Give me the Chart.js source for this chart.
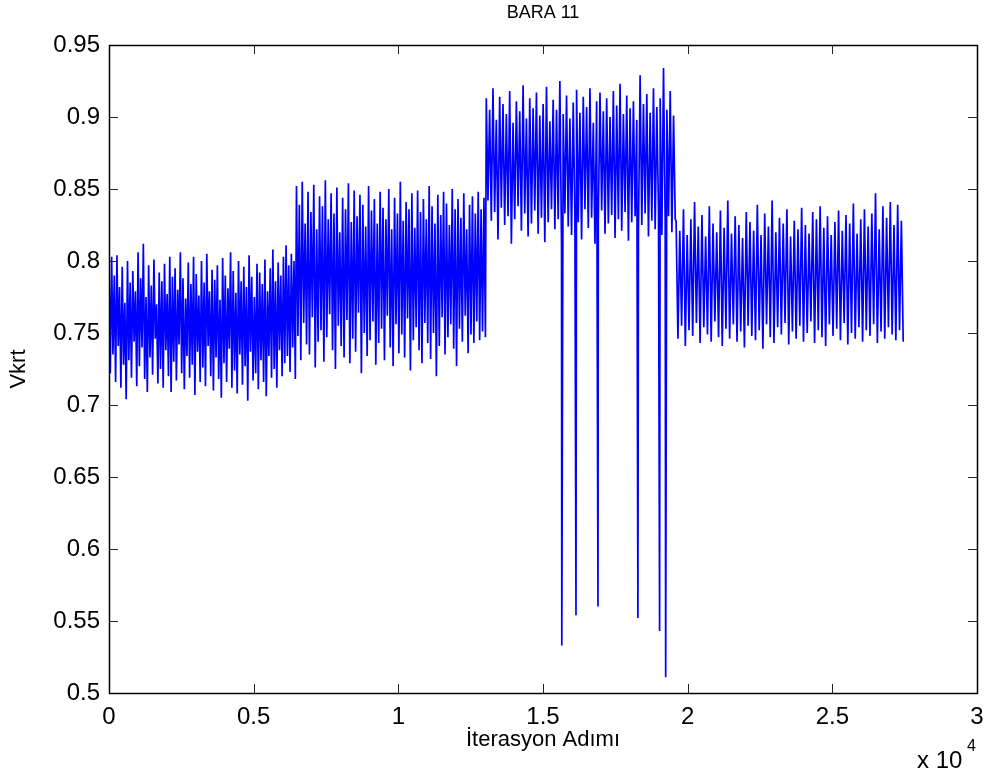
<!DOCTYPE html>
<html>
<head>
<meta charset="utf-8">
<script src="https://cdn.jsdelivr.net/npm/chart.js@4/dist/chart.umd.min.js"></script>
<style>
  html, body { margin: 0; padding: 0; background: #fff; }
  #wrap { width: 987px; height: 775px; }
</style>
</head>
<body>
<div id="wrap"><canvas id="plot" width="987" height="775"></canvas></div>
<script>
// Vkrt per iteration, four operating stages (peak, trough, peak, trough ...)
var stageA = [
  .798,.722, .803,.735, .790,.716, .804,.741, .782,.712, .796,.728, .771,.704, .800,.731,
  .785,.719, .793,.744, .779,.713, .806,.727, .788,.740, .812,.718, .775,.709, .797,.733,
  .783,.721, .801,.746, .770,.715, .792,.725, .786,.712, .798,.738, .777,.720, .803,.709,
  .789,.730, .795,.717, .780,.742, .806,.722, .788,.711, .774,.734, .799,.719, .784,.728,
  .803,.707, .791,.737, .776,.716, .800,.726, .785,.713, .805,.741, .779,.720, .794,.710,
  .787,.733, .797,.718, .773,.705, .802,.729, .790,.716, .781,.739, .806,.712, .793,.724,
  .778,.708, .800,.735, .786,.714, .796,.727, .782,.703, .804,.737, .789,.717, .775,.722,
  .798,.711, .792,.731, .784,.716, .801,.706, .779,.734, .795,.719, .808,.725, .786,.712,
  .799,.738, .790,.720, .803,.729, .811,.734, .797,.723, .805,.740, .800,.718
];
var stageB = [
  .852,.748, .839,.731, .855,.757, .826,.742, .848,.735, .834,.761, .853,.726, .822,.744,
  .845,.752, .838,.730, .856,.747, .829,.763, .847,.738, .833,.725, .851,.755, .820,.741,
  .844,.733, .836,.759, .854,.729, .827,.746, .849,.737, .831,.764, .846,.722, .839,.750,
  .824,.734, .852,.745, .835,.758, .843,.728, .826,.743, .848,.753, .837,.731, .829,.762,
  .850,.740, .822,.727, .844,.756, .833,.736, .855,.749, .828,.733, .841,.760, .836,.724,
  .847,.745, .823,.754, .849,.738, .834,.729, .843,.757, .829,.743, .852,.732, .838,.750,
  .826,.720, .846,.741, .832,.761, .848,.735, .840,.747, .825,.756, .850,.739, .836,.727,
  .843,.753, .830,.744, .847,.762, .822,.736, .839,.749, .845,.743, .833,.758, .848,.745,
  .836,.751, .844,.747
];
var stageC = [
  .913,.842, .905,.828, .920,.834, .898,.815, .914,.837, .909,.825, .902,.831, .918,.812,
  .896,.829, .911,.838, .904,.821, .922,.833, .899,.817, .913,.826, .906,.835, .917,.819,
  .901,.830, .909,.813, .921,.827, .897,.836, .912,.822, .905,.829, .925,.811, .902,.833,
  .915,.824, .899,.818, .910,.831, .919,.827, .903,.815, .914,.836, .907,.823, .920,.830,
  .896,.812, .911,.828, .917,.835, .904,.819, .913,.826, .900,.832, .918,.816, .908,.829,
  .923,.821, .902,.834, .915,.814, .906,.827, .911,.831, .898,.820, .929,.825, .909,.833,
  .916,.817, .903,.828, .920,.822, .907,.834, .913,.818, .934,.826, .905,.831, .918,.820,
  .901,.829
];
var stageD = [
  .828,.746, .821,.755, .836,.741, .818,.752, .829,.748, .841,.757, .824,.743, .832,.754,
  .817,.749, .838,.744, .826,.758, .820,.747, .835,.741, .823,.753, .842,.746, .819,.756,
  .831,.744, .825,.751, .816,.740, .834,.755, .827,.748, .821,.745, .839,.752, .818,.739,
  .833,.756, .824,.747, .842,.743, .820,.754, .830,.749, .826,.757, .836,.742, .817,.751,
  .828,.746, .822,.755, .837,.744, .825,.750, .819,.758, .834,.743, .829,.752, .838,.747,
  .823,.741, .831,.756, .818,.748, .827,.753, .835,.745, .821,.757, .832,.742, .826,.750,
  .840,.746, .819,.754, .829,.744, .836,.752, .824,.748, .833,.756, .847,.743, .822,.751,
  .838,.746, .830,.754, .841,.749, .825,.745, .839,.752, .828,.744
];
// first and last iteration of each stage
var stageFrom = [0, 6480, 13040, 19600];
var stageTo = [6440, 13010, 19570, 27450];

// short voltage collapses during stage C
var dipIter = [15650, 16140, 16900, 18280, 19030, 19240];
var dipValue = [0.533, 0.554, 0.560, 0.552, 0.543, 0.511];

var xTicks = [0, 5000, 10000, 15000, 20000, 25000, 30000];
var yTicks = [0.5, 0.55, 0.6, 0.65, 0.7, 0.75, 0.8, 0.85, 0.9, 0.95];

var FONT = "'Liberation Sans', Arial, sans-serif";

var points = [];
[stageA, stageB, stageC, stageD].forEach(function (vals, k) {
  var step = (stageTo[k] - stageFrom[k]) / (vals.length - 1);
  for (var i = 0; i < vals.length; i++) {
    points.push({ x: stageFrom[k] + i * step, y: vals[i] });
  }
});
for (var j = 0; j < dipIter.length; j++) {
  points.push({ x: dipIter[j], y: dipValue[j] });
}
points.sort(function (a, b) { return a.x - b.x; });

// box around the axes with inward ticks on every side, title and the x 10^4 exponent
var matlabFrame = {
  id: "matlabFrame",
  afterDraw: function (chart) {
    var ctx = chart.ctx;
    var a = chart.chartArea;
    var xs = chart.scales.x, ys = chart.scales.y;
    var len = 9;
    ctx.save();
    ctx.strokeStyle = "#262626";
    ctx.lineWidth = 1;
    ctx.beginPath();
    xTicks.forEach(function (v) {
      var px = Math.round(xs.getPixelForValue(v)) + 0.5;
      ctx.moveTo(px, a.bottom); ctx.lineTo(px, a.bottom - len);
      ctx.moveTo(px, a.top); ctx.lineTo(px, a.top + len);
    });
    yTicks.forEach(function (v) {
      var py = Math.round(ys.getPixelForValue(v)) + 0.5;
      ctx.moveTo(a.left, py); ctx.lineTo(a.left + len, py);
      ctx.moveTo(a.right, py); ctx.lineTo(a.right - len, py);
    });
    ctx.stroke();
    ctx.lineWidth = 1.5;
    ctx.strokeStyle = "#000";
    ctx.strokeRect(Math.round(a.left) + 0.5, Math.round(a.top) + 0.5,
      Math.round(a.right - a.left), Math.round(a.bottom - a.top));

    ctx.fillStyle = "#000";
    ctx.textBaseline = "middle";
    ctx.textAlign = "center";
    ctx.font = "18px " + FONT;
    ctx.fillText("BARA 11", (a.left + a.right) / 2, 13);

    ctx.textBaseline = "alphabetic";
    ctx.textAlign = "left";
    ctx.font = "24px " + FONT;
    ctx.fillText("x 10", 917, 768);
    ctx.font = "16px " + FONT;
    ctx.fillText("4", 967, 751);
    ctx.restore();
  }
};

var context = document.getElementById("plot").getContext("2d");
var chart = new Chart(context, {
  type: "line",
  data: {
    datasets: [{
      data: points,
      borderColor: "#0000ff",
      borderWidth: 1.7,
      pointRadius: 0,
      tension: 0,
      fill: false
    }]
  },
  options: {
    responsive: false,
    animation: false,
    parsing: false,
    normalized: true,
    layout: { padding: { top: 45, right: 10, bottom: 0, left: 0 } },
    plugins: {
      legend: { display: false },
      tooltip: { enabled: false },
      title: { display: false }
    },
    scales: {
      x: {
        type: "linear",
        min: 0,
        max: 30000,
        grid: { display: false, drawTicks: false },
        border: { display: false },
        afterBuildTicks: function (scale) {
          scale.ticks = xTicks.map(function (v) { return { value: v }; });
        },
        afterFit: function (scale) {
          scale.height = 82;
          scale.paddingLeft = 0;
          scale.paddingRight = 0;
        },
        ticks: {
          color: "#000",
          padding: 10,
          maxRotation: 0,
          font: { family: FONT, size: 24 },
          callback: function (v) { return String(Number((v / 10000).toFixed(2))); }
        },
        title: {
          display: true,
          text: "İterasyon Adımı",
          color: "#000",
          font: { family: FONT, size: 22 },
          padding: { top: 0, bottom: 22 }
        }
      },
      y: {
        type: "linear",
        min: 0.5,
        max: 0.95,
        grid: { display: false, drawTicks: false },
        border: { display: false },
        afterBuildTicks: function (scale) {
          scale.ticks = yTicks.map(function (v) { return { value: v }; });
        },
        afterFit: function (scale) {
          scale.width = 109;
          scale.paddingTop = 0;
          scale.paddingBottom = 0;
        },
        ticks: {
          color: "#000",
          padding: 9,
          font: { family: FONT, size: 24 },
          callback: function (v) { return String(Number(v.toFixed(2))); }
        },
        title: {
          display: true,
          text: "Vkrt",
          color: "#000",
          font: { family: FONT, size: 22 },
          padding: { top: 6, bottom: 0 }
        }
      }
    }
  },
  plugins: [matlabFrame]
});
</script>
</body>
</html>
